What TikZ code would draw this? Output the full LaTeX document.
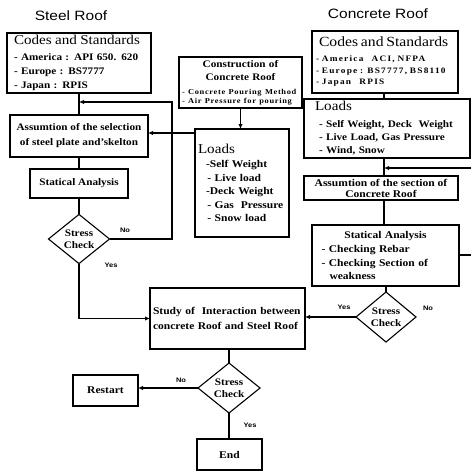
\documentclass[tikz,border=0pt]{standalone}
\usepackage{fontspec}
\setmainfont{Liberation Serif}[FakeStretch=1.12]
\newfontfamily\sansf{Liberation Sans}[FakeStretch=1.15]
\usetikzlibrary{shapes.geometric,arrows.meta}
\newcommand\lsp[2]{{\addfontfeature{LetterSpace=#1}#2}}
\begin{document}
\begin{tikzpicture}[x=1pt,y=-1pt,
  box/.style={draw,line width=1.1pt,inner sep=0pt,outer sep=0pt},
  bx/.style={box,font={\fontsize{10.3}{13.5}\selectfont\bfseries}},
  dia/.style={draw,diamond,line width=1.1pt,inner sep=0pt,outer sep=0pt,align=center,
    font={\fontsize{10}{12}\selectfont\bfseries}},
  conn/.style={line width=1.1pt},
  arr/.style={conn,-{Latex[length=5pt,width=4.5pt]}},
  yn/.style={font={\sansf\fontsize{6.5}{7}\selectfont\bfseries},inner sep=0pt},
  ttl/.style={font={\sansf\fontsize{13.5}{15}\selectfont},inner sep=0pt}]
\useasboundingbox (0,0) rectangle (471,471);

% titles
\node[ttl] (t1) at (71,16) {Steel Roof};
\node[ttl] (t2) at (378,14) {Concrete Roof};

% ---------- steel roof column ----------
\node[bx, minimum width=144pt, minimum height=60pt, text width=130pt, align=left,
  font={\fontsize{10}{14}\selectfont\bfseries}] (sc) at (79,63)
  {{\mdseries\fontsize{13.5}{14}\selectfont Codes and Standards}\\[2pt]
   \mbox{- America : API 650. 620}\\ - Europe : BS7777\\ - Japan : RPIS};

\node[bx, minimum width=138pt, minimum height=42pt, align=center,
  font={\fontsize{10}{15}\selectfont\bfseries}] (sa) at (79,136)
  {Assumtion of the selection\\of steel plate and'skelton};

\node[bx, minimum width=98pt, minimum height=29pt,
  font={\fontsize{10}{12}\selectfont\bfseries}] (sst) at (79,183.5) {Statical Analysis};

\node[dia, minimum width=61pt, minimum height=48pt] (sd) at (79,239) {Stress\\Check};

% construction of concrete roof
\node[bx, minimum width=123pt, minimum height=51pt, text width=117pt, align=left,
  font={\fontsize{10}{14}\selectfont\bfseries}] (cons) at (240.5,82.5)
  {\makebox[\linewidth]{Construction of}\\[-1pt]
   \makebox[\linewidth]{Concrete Roof}\\
   {\fontsize{7.5}{9}\selectfont\lsp{9}{- Concrete Pouring Method}}\\[-5pt]
   {\fontsize{7.5}{9}\selectfont\lsp{9}{- Air Pressure for pouring}}};

% steel loads
\node[bx, minimum width=94pt, minimum height=108pt, text width=88pt, align=left,
  font={\fontsize{10.3}{13.5}\selectfont\bfseries}] (sl) at (242,183)
  {{\mdseries\fontsize{13.5}{14}\selectfont Loads}\\[1pt]
   \hspace*{8pt}-Self Weight\\
   \hspace*{6pt} - Live load\\
   \hspace*{8pt}-Deck Weight\\
   \hspace*{6pt} - Gas\ \ Pressure\\
   \hspace*{6pt} - Snow load};

% ---------- concrete roof column ----------
\node[bx, minimum width=146pt, minimum height=62pt, text width=138pt, align=left,
  font={\fontsize{8.3}{11.5}\selectfont\bfseries}] (cc) at (385,62)
  {\hspace*{3pt}{\mdseries\fontsize{14}{14}\selectfont Codes and Standards}\\[3.5pt]
   \lsp{15}{- America\ \ \ ACI, NFPA}\\
   \lsp{15}{- Europe : BS7777, BS8110}\\
   \lsp{15}{- Japan\ \ \ RPIS}};

\node[bx, minimum width=166pt, minimum height=59pt, text width=144pt, align=left,
  font={\fontsize{10}{13}\selectfont\bfseries}] (cl) at (387,128.5)
  {{\mdseries\fontsize{13.5}{14}\selectfont Loads}\\[4pt]
   \hspace*{4pt}- Self Weight, Deck\ \ Weight\\
   \hspace*{4pt}- Live Load, Gas Pressure\\
   \hspace*{4pt}- Wind, Snow};

\node[bx, minimum width=154pt, minimum height=24pt, align=center,
  font={\fontsize{10.3}{11}\selectfont\bfseries}] (ca) at (381,188)
  {Assumtion of the section of\\Concrete Roof};

\node[bx, minimum width=147pt, minimum height=61pt, text width=128pt, align=left,
  font={\fontsize{10.3}{13.5}\selectfont\bfseries}] (cst) at (385.5,255.5)
  {\makebox[\linewidth]{Statical Analysis}\\[1pt]
   - Checking Rebar\\
   - Checking Section of\\
   \hspace*{8pt}weakness};

\node[dia, minimum width=60pt, minimum height=50pt] (cd) at (386,317) {Stress\\Check};

% ---------- common ----------
\node[bx, minimum width=155pt, minimum height=61pt, text width=149pt, align=left,
  font={\fontsize{10.3}{15}\selectfont\bfseries}] (study) at (227.5,318.5)
  {Study of\ \ Interaction between\\concrete Roof and Steel Roof};

\node[dia, minimum width=62pt, minimum height=50pt] (fd) at (229,388) {Stress\\Check};

\node[bx, minimum width=65pt, minimum height=31pt] (restart) at (105.5,390.5) {Restart};
\node[bx, minimum width=65pt, minimum height=31pt] (end) at (229.5,454.5) {End};

% labels
\node[yn] (n1) at (125,230) {No};
\node[yn] (y1) at (111,265) {Yes};
\node[yn] (y2) at (344,307) {Yes};
\node[yn] (n2) at (428,308) {No};
\node[yn] (n3) at (181,380) {No};
\node[yn] (y3) at (250,425) {Yes};

% ---------- connectors ----------
\coordinate (j1) at (79,102);
\coordinate (k1) at (172,102);
\draw[conn] (sc.south) -- (sa.north);
\draw[arr] (sd.east) -| (k1) -- (j1);
\coordinate (la) at ([yshift=-4pt]sl.north west);
\draw[arr] (la) -- (la -| sa.east);
\draw[conn] (sa.south) -- (sst.north);
\draw[conn] (sst.south) -- (sd.north);
\draw[arr] (sd.south) |- (study.west);
\draw[arr] (cons.south) -- (cons.south |- sl.north);

\coordinate (j2) at (384,168);
\coordinate (e1) at (471,168);
\coordinate (e2) at (471,255);
\draw[conn] (cc.south -| j2) -- (cl.north -| j2);
\draw[conn] (cl.south -| j2) -- (ca.north -| j2);
\draw[arr] (e1) -- (j2);
\draw[conn] (ca.south -| j2) -- (cst.north -| j2);
\draw[conn] (cst.east |- e2) -- (e2);
\draw[conn] (cst.south -| cd.north) -- (cd.north);
\draw[arr] (cd.west) -- (cd.west -| study.east);
\draw[conn] (study.south -| fd.north) -- (fd.north);
\draw[arr] (fd.west) -- (fd.west -| restart.east);
\draw[conn] (fd.south) -- (fd.south |- end.north);
\end{tikzpicture}
\end{document}
